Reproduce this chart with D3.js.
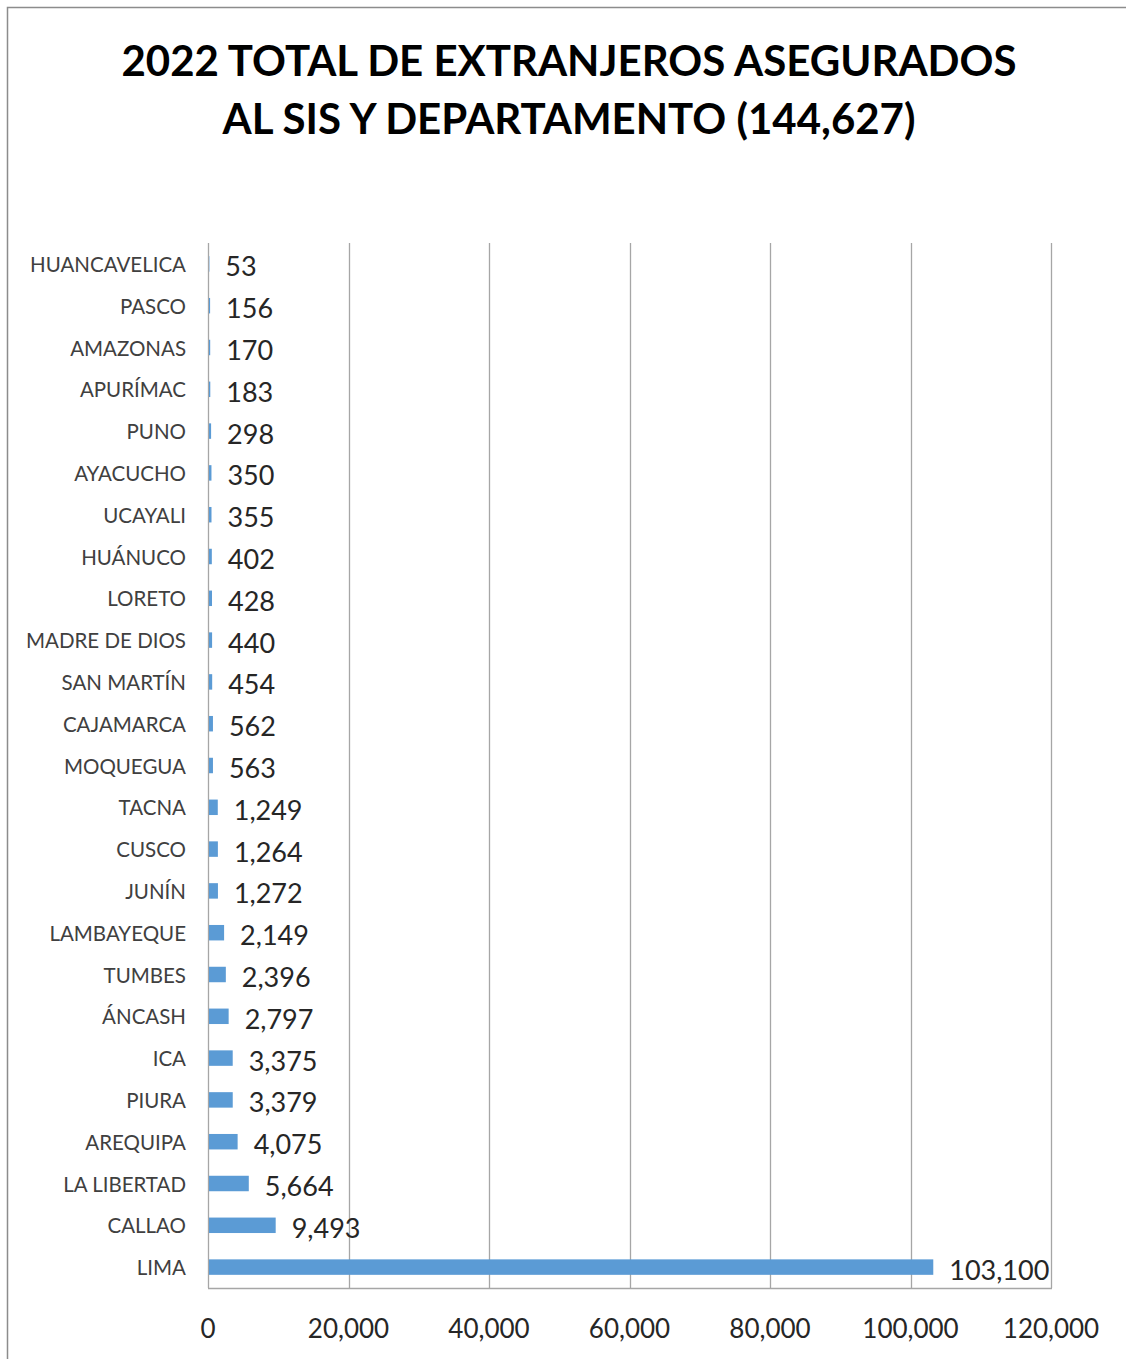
<!DOCTYPE html>
<html>
<head>
<meta charset="utf-8">
<script src="https://cdnjs.cloudflare.com/ajax/libs/d3/7.8.5/d3.min.js"></script>
<style>
  body { margin: 0; background: #fff; }
  svg { display: block; font-family: Lato, "Open Sans", sans-serif; }
</style>
</head>
<body>
<div id="chart"></div>
<script>
// departamentos, de arriba hacia abajo
var departments = ["HUANCAVELICA", "PASCO", "AMAZONAS", "APURÍMAC", "PUNO", "AYACUCHO",
  "UCAYALI", "HUÁNUCO", "LORETO", "MADRE DE DIOS", "SAN MARTÍN", "CAJAMARCA", "MOQUEGUA",
  "TACNA", "CUSCO", "JUNÍN", "LAMBAYEQUE", "TUMBES", "ÁNCASH", "ICA", "PIURA", "AREQUIPA",
  "LA LIBERTAD", "CALLAO", "LIMA"];
var insured = [53, 156, 170, 183, 298, 350, 355, 402, 428, 440, 454, 562, 563,
  1249, 1264, 1272, 2149, 2396, 2797, 3375, 3379, 4075, 5664, 9493, 103100];
var xTicks = [0, 20000, 40000, 60000, 80000, 100000, 120000];
var titleLines = ["2022 TOTAL DE EXTRANJEROS ASEGURADOS", "AL SIS Y DEPARTAMENTO (144,627)"];

var svgWidth = 1126, svgHeight = 1359;
var plot = { left: 208, right: 1051, top: 243, bottom: 1288 };

var svg = d3.select("#chart").append("svg")
    .attr("width", svgWidth)
    .attr("height", svgHeight);

// marco exterior
svg.append("path")
    .attr("d", `M7.5,${svgHeight} V7.5 H${svgWidth}`)
    .attr("fill", "none")
    .attr("stroke", "#8c8c8c")
    .attr("stroke-width", 1.5);

// titulo
svg.selectAll(".title")
    .data(titleLines)
    .enter()
    .append("text")
    .attr("class", "title")
    .attr("x", 569)
    .attr("y", (d, i) => 76 + i * 58)
    .attr("text-anchor", "middle")
    .attr("font-weight", "bold")
    .attr("font-size", "42px")
    .attr("fill", "#000")
    .text(d => d);

var xScale = d3.scaleLinear()
    .domain([0, 120000])
    .range([plot.left, plot.right]);

var yScale = d3.scaleBand()
    .domain(departments)
    .range([plot.top, plot.bottom])
    .paddingInner(0.63)
    .paddingOuter(0.315);

// lineas de cuadricula
svg.append("g")
    .selectAll("line")
    .data(xTicks)
    .enter()
    .append("line")
    .attr("x1", d => Math.round(xScale(d)) + 0.5)
    .attr("x2", d => Math.round(xScale(d)) + 0.5)
    .attr("y1", plot.top)
    .attr("y2", plot.bottom)
    .attr("stroke", "#a6a6a6")
    .attr("stroke-width", 1.3);

// linea inferior del area de trazado
svg.append("line")
    .attr("x1", plot.left)
    .attr("x2", plot.right + 1)
    .attr("y1", plot.bottom + 0.5)
    .attr("y2", plot.bottom + 0.5)
    .attr("stroke", "#a6a6a6")
    .attr("stroke-width", 1.3);

// barras
svg.append("g")
    .selectAll("rect")
    .data(insured)
    .enter()
    .append("rect")
    .attr("x", xScale(0) + 1)
    .attr("y", (d, i) => yScale(departments[i]))
    .attr("width", d => Math.max(0, xScale(d) - xScale(0)))
    .attr("height", yScale.bandwidth())
    .attr("fill", "#5b9bd5");

// etiquetas de valor
svg.append("g")
    .selectAll("text")
    .data(insured)
    .enter()
    .append("text")
    .attr("x", d => xScale(d) + 17)
    .attr("y", (d, i) => yScale(departments[i]) + yScale.bandwidth() / 2 + 2)
    .attr("dominant-baseline", "central")
    .attr("font-size", "27px")
    .attr("fill", "#262626")
    .text(d => d3.format(",")(d));

// etiquetas de categoria
svg.append("g")
    .selectAll("text")
    .data(departments)
    .enter()
    .append("text")
    .attr("x", 186)
    .attr("y", d => yScale(d) + yScale.bandwidth() / 2)
    .attr("dominant-baseline", "central")
    .attr("text-anchor", "end")
    .attr("font-size", "20.5px")
    .attr("fill", "#404040")
    .text(d => d);

// etiquetas del eje x
svg.append("g")
    .selectAll("text")
    .data(xTicks)
    .enter()
    .append("text")
    .attr("x", d => xScale(d))
    .attr("y", 1328)
    .attr("dominant-baseline", "central")
    .attr("text-anchor", "middle")
    .attr("font-size", "26px")
    .attr("fill", "#262626")
    .text(d => d3.format(",")(d));
</script>
</body>
</html>
